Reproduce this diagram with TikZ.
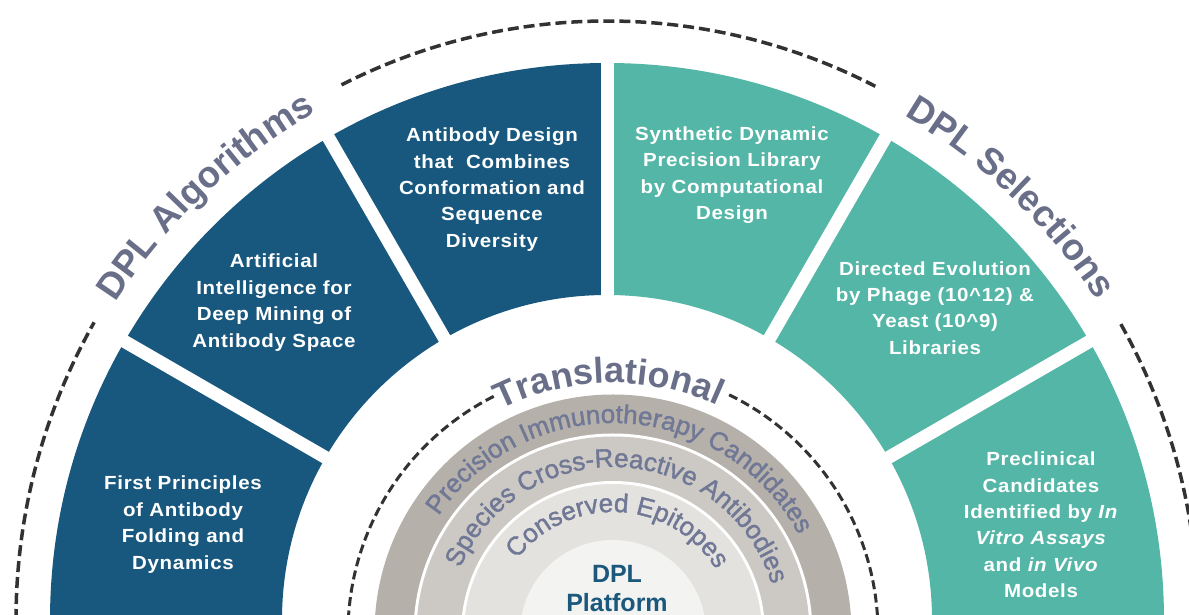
\documentclass[tikz,border=0pt]{standalone}
\usepackage{fontspec}
\setmainfont{Liberation Sans}
\newfontfamily\segfam[LetterSpace=3.5,FakeStretch=1.08]{Liberation Sans}
\newfontfamily\ringfam[FakeBold=1.4]{Liberation Sans}
\usetikzlibrary{decorations.text,calc}
\definecolor{segblue}{RGB}{24,88,126}
\definecolor{segteal}{RGB}{84,182,166}
\definecolor{labgray}{RGB}{106,111,137}
\definecolor{ringtext}{RGB}{112,120,150}
\definecolor{ringA}{RGB}{181,176,169}
\definecolor{ringB}{RGB}{204,201,196}
\definecolor{ringC}{RGB}{227,226,223}
\definecolor{diskc}{RGB}{243,243,242}
\definecolor{dashc}{RGB}{50,50,50}
\definecolor{platblue}{RGB}{27,88,124}
\newcommand{\segfont}{\segfam\fontsize{19}{26.4}\selectfont\bfseries}
\newcommand{\bigarcfont}{\fontsize{37}{37}\selectfont\bfseries}
\newcommand{\transfont}{\fontsize{36}{36}\selectfont\bfseries}
\newcommand{\ringfont}{\ringfam\fontsize{26}{26}\selectfont}
\begin{document}
\begin{tikzpicture}[x=1pt,y=1pt,
  segtext/.style={text=white,font=\segfont,align=center,inner sep=0pt},
  outerdash/.style={draw=dashc,line width=3.5pt,dash pattern=on 11pt off 5pt},
  innerdash/.style={draw=dashc,line width=3pt,dash pattern=on 9pt off 4.5pt},
  sepline/.style={draw=white,line width=13pt}]
\useasboundingbox (0,0) rectangle (1189,615);
\clip (0,0) rectangle (1189,615);
\coordinate (O) at (607,-5);
\coordinate (I) at (613,-18);
% coloured ring
\fill[segteal] ($(O)+(0:557)$) arc[start angle=0,end angle=90,radius=557]
  -- ($(O)+(90:325)$) arc[start angle=90,end angle=0,radius=325] -- cycle;
\fill[segblue] ($(O)+(90:557)$) arc[start angle=90,end angle=180,radius=557]
  -- ($(O)+(180:325)$) arc[start angle=180,end angle=90,radius=325] -- cycle;
\foreach \a in {30,60,90,120,150}
  \draw[sepline] ($(O)+(\a:300)$) -- ($(O)+(\a:580)$);
% outer dashed arc
\draw[outerdash] ($(O)+(180:591 and 599)$) arc[start angle=180,end angle=150.2,x radius=591,y radius=599];
\draw[outerdash] ($(O)+(116.7:591 and 599)$) arc[start angle=116.7,end angle=63,x radius=591,y radius=599];
\draw[outerdash] ($(O)+(29.6:591 and 599)$) arc[start angle=29.6,end angle=0,x radius=591,y radius=599];
\path[decorate,decoration={text along path,text align=center,text color=labgray,
  text={|\bigarcfont|DPL Algorithms}}]
  ($(O)+(153.5:585)$) arc[start angle=153.5,end angle=113.5,radius=585];
\path[decorate,decoration={text along path,text align=center,text color=labgray,
  text={|\bigarcfont|DPL Selections}}]
  ($(O)+(66.3:585)$) arc[start angle=66.3,end angle=26.3,radius=585];
% inner rings
\fill[ringA] (I) circle (238.5);
\fill[white] (I) circle (199.5);
\fill[ringB] (I) circle (196.5);
\fill[white] (I) circle (152);
\fill[ringC] (I) circle (149);
\fill[diskc] (I) circle (93);
% inner dashed arc
\draw[innerdash] ($(I)+(180:265)$) arc[start angle=180,end angle=116,radius=265];
\draw[innerdash] ($(I)+(64:265)$) arc[start angle=64,end angle=0,radius=265];
\path[decorate,decoration={text along path,text align=center,text color=labgray,
  text={|\transfont|Translational}}]
  ($(I)+(121:250)$) arc[start angle=121,end angle=61,radius=250];
\path[decorate,decoration={text along path,text align=center,text color=ringtext,
  text={|\ringfont|Precision Immunotherapy Candidates}}]
  ($(I)+(160:210)$) arc[start angle=160,end angle=14,radius=210];
\path[decorate,decoration={text along path,text align=center,text color=ringtext,
  text={|\ringfont|Species Cross-Reactive Antibodies}}]
  ($(I)+(170:166)$) arc[start angle=170,end angle=4,radius=166];
\path[decorate,decoration={text along path,text align=center,text color=ringtext,
  text={|\ringfont|Conserved Epitopes}}]
  ($(I)+(150:121)$) arc[start angle=150,end angle=24,radius=121];
% texts
\node[segtext] (s1) at (183,90.5) {First Principles\\of Antibody\\Folding and\\Dynamics};
\node[segtext] (s2) at (274,312.5) {Artificial\\Intelligence for\\Deep Mining of\\Antibody Space};
\node[segtext] (s3) at (492,425.5) {Antibody Design\\that\ \ Combines\\Conformation and\\Sequence\\Diversity};
\node[segtext] (s4) at (732,440) {Synthetic Dynamic\\Precision Library\\by Computational\\Design};
\node[segtext] (s5) at (935,307) {Directed Evolution\\by Phage (10\textasciicircum12) \&\\Yeast (10\textasciicircum9)\\Libraries};
\node[segtext] (s6) at (1041,90) {Preclinical\\Candidates\\Identified by \textit{In}\\\textit{Vitro Assays}\\and \textit{in Vivo}\\Models};
\node[font=\fontsize{25}{29}\selectfont\bfseries,text=platblue,align=center,inner sep=0pt] (plat) at (617,26) {DPL\\Platform};
\end{tikzpicture}
\end{document}
